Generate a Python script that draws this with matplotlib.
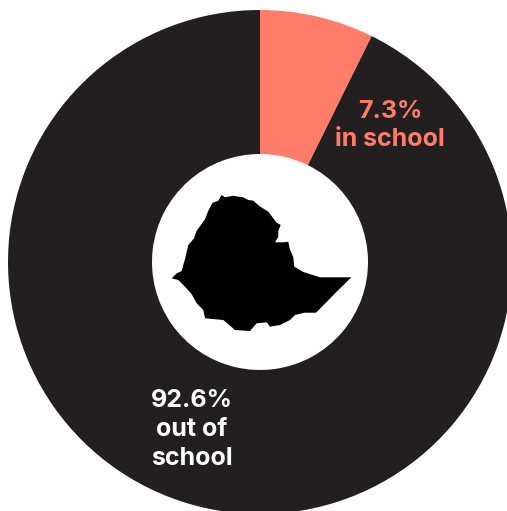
import numpy as np
import matplotlib.pyplot as plt

plt.rcParams['font.family'] = ['Inter', 'DejaVu Sans']

# Share of children in and out of school
shares = [7.3, 92.6]
share_colors = ['#ff7d68', '#231f20']

# Outline of Ethiopia, in image pixels
outline_x = [221.7, 225, 233.3, 238.3, 243.3, 248.3, 253.3, 259.3, 268.3, 273.3, 276.7, 280.7,
             278.3, 278.3, 275, 283.3, 288.3, 289.5, 293.3, 294.3, 303.3, 320, 336.7, 351.3,
             336.7, 316, 304.3, 295, 290, 280, 270, 266.7, 256.7, 250, 235, 223.3, 205, 203.3,
             196.7, 191.7, 185, 178.3, 171.7, 176.7, 181.7, 183.3, 185, 186.7, 188.3, 194,
             196.7, 205, 208.3, 212.7, 218.3]
outline_y = [195, 197.3, 195.7, 196.7, 197.3, 200, 200.7, 206, 211.7, 218.3, 222.7, 225, 230.7,
             236.7, 242.3, 242.3, 241.7, 248.3, 257.3, 266.7, 272, 277.3, 277.3, 277.3, 291.7,
             312.7, 312.7, 315, 320, 325, 326.7, 322.3, 323.3, 331, 330, 320, 318.3, 310,
             303.3, 294.3, 286.7, 280, 278.3, 273.3, 271, 265, 259, 251.7, 245, 238.3, 230.7,
             219.3, 210.7, 202.7, 200.7]

W, H = 507, 511
CX, CY = 260, H - 262
OUTER = 252
INNER = 108

fig = plt.figure(figsize=(W / 100, H / 100), dpi=100)
ax = fig.add_axes([0, 0, 1, 1])

ax.pie(shares, colors=share_colors, startangle=90, counterclock=False,
       center=(CX, CY), radius=OUTER,
       wedgeprops={'width': OUTER - INNER, 'linewidth': 0})

# Map sits in the hole of the donut
ax.fill(outline_x, H - np.array(outline_y), color='black', linewidth=0)

ax.text(390, H - 111, '7.3%', color='#ff7d68', fontsize=18, fontweight='bold',
        ha='center', va='center')
ax.text(390, H - 139.5, 'in school', color='#ff7d68', fontsize=18, fontweight='bold',
        ha='center', va='center')
ax.text(192, H - 400.5, '92.6%', color='white', fontsize=18, fontweight='bold',
        ha='center', va='center')
ax.text(192, H - 429.5, 'out of', color='white', fontsize=18, fontweight='bold',
        ha='center', va='center')
ax.text(192, H - 458.5, 'school', color='white', fontsize=18, fontweight='bold',
        ha='center', va='center')

ax.set_xlim(0, W)
ax.set_ylim(0, H)
ax.axis('off')
fig.savefig('out.png', dpi=100, facecolor='white')
